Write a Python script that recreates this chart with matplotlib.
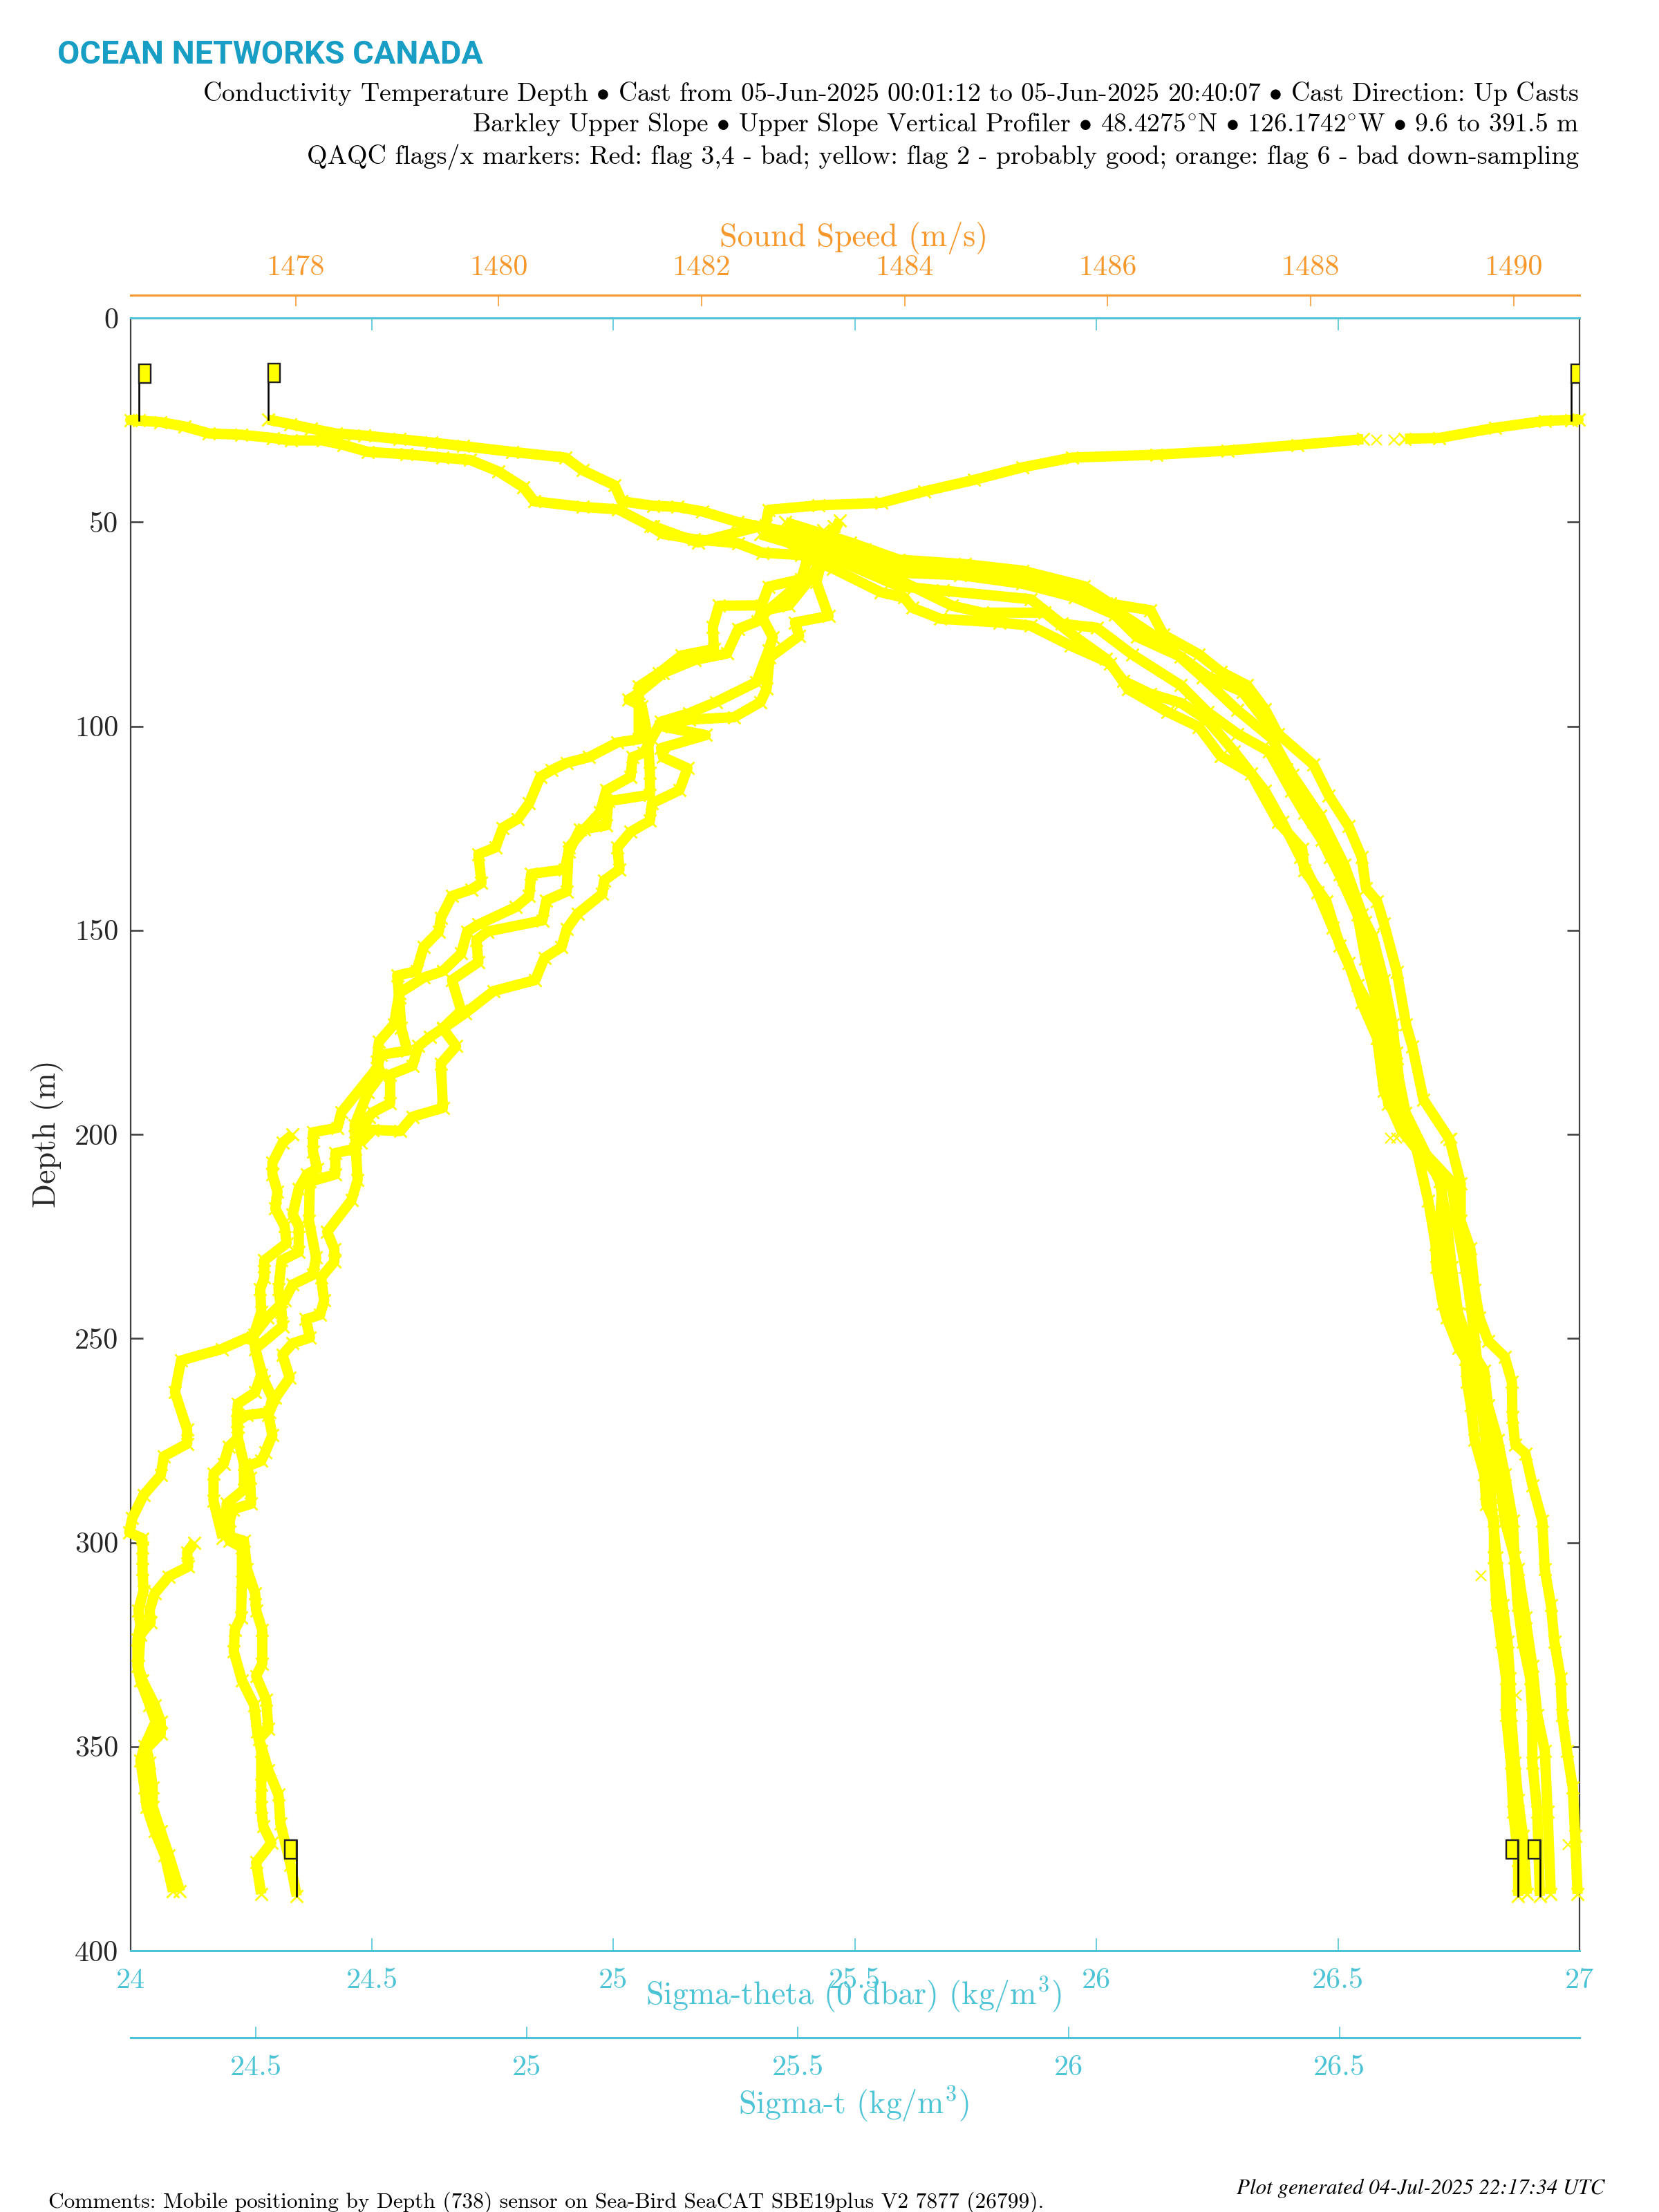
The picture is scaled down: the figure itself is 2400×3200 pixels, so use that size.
import numpy as np
import matplotlib
matplotlib.use("Agg")
import matplotlib.pyplot as plt
from matplotlib.patches import Rectangle
from matplotlib.transforms import IdentityTransform

plt.rcParams['font.family'] = ['cmr10', 'DejaVu Serif']
plt.rcParams['mathtext.fontset'] = 'cm'
plt.rcParams['axes.formatter.use_mathtext'] = True

# ---- sound speed (m/s) strands and their depths (m)
speed_1 = [1490.57,1490.64,1490.31,1489.82,1489.27,1488.93,np.nan,1488.52,1487.87,1487.18,1486.48,1485.65,1485.16,1484.68,1484.19,1483.77,1483.15,1482.66,1482.63,1483.05,1482.98,1482.66,1482.59,1482.17,1482.11,1482.12,1481.80,1481.58,1481.38,1481.38,1481.17,1480.89,1480.67,1480.52,1480.41,1480.30,1480.19,1480.04,1479.97,1479.80,1479.83,1479.73,1479.54,1479.43,1479.41,1479.26,1479.19,1479.00,1479.02,1479.04,1479.10,1478.84,1478.80,1478.45,1478.41,1478.17,1478.17,1478.21,1478.11,1478.03,1477.97,1478.03,1478.03,1477.86,1477.83,1477.86,1477.87,1477.60,1477.69,1477.77,1477.73,1477.77,1477.70,1477.66,1477.52,1477.55,1477.56,1477.38,1477.35,1477.35,1477.47,1477.47,1477.46,1477.40,1477.39,1477.47,1477.59,1477.62,1477.66,1477.66,1477.66,1477.68,1477.76,1477.61,1477.66]
depth_1 = [25.0,24.9,25.2,26.9,29.4,29.6,np.nan,29.7,31.1,32.5,33.5,34.2,36.6,39.7,42.5,45.3,45.9,47.0,50.8,58.7,64.0,65.8,70.4,70.5,75.7,81.1,82.7,87.0,90.3,103.2,104.0,107.6,109.0,110.8,112.4,118.9,122.7,124.9,129.7,131.4,138.4,140.0,141.6,147.0,150.3,154.1,160.0,161.1,166.5,174.0,179.5,180.5,183.8,194.6,198.4,199.5,204.2,208.4,209.8,213.3,219.6,222.5,228.8,230.9,237.9,243.5,247.0,252.6,260.4,264.6,268.8,273.7,277.9,280.0,281.4,284.2,290.5,291.9,294.7,299.6,301.2,309.5,318.4,321.4,326.7,333.8,339.8,346.3,351.1,359.4,364.7,369.5,373.6,378.4,386.1]

speed_2 = [1483.36,1483.25,1483.09,1482.86,1482.59,1482.55,1482.36,1482.25,1481.93,1481.62,1481.38,1481.28,1481.41,1481.47,1481.49,1481.49,1481.08,1481.06,1480.80,1480.69,1480.65,1480.32,1480.30,1480.17,1479.80,1479.69,1479.63,1479.45,1479.26,1479.02,1478.97,1478.82,1478.80,1478.84,1478.71,1478.58,1478.59,1478.61,1478.55,1478.31,1478.38,1478.38,1478.25,1478.28,1478.24,1478.10,1478.14,1477.97,1477.87,1477.94,1477.80,1477.74,1477.52,1477.43,1477.43,1477.49,1477.49,1477.32,1477.31,1477.49,1477.52,1477.60,1477.61,1477.67,1477.67,1477.61,1477.71,1477.73,1477.64,1477.73,1477.83,1477.85,1477.95,1478.01]
depth_2 = [49.6,55.0,63.3,70.4,71.8,74.3,76.2,82.2,83.8,87.0,91.9,93.5,95.1,102.7,111.4,116.8,118.4,124.3,125.4,130.8,135.1,136.2,141.6,144.3,148.6,150.3,155.7,160.0,161.6,165.4,173.0,177.3,182.2,185.4,189.7,197.8,202.1,211.2,216.1,223.9,228.1,231.2,235.1,240.7,244.2,245.3,249.8,251.2,254.0,259.6,264.6,268.1,268.8,270.2,274.4,280.7,287.0,290.5,298.2,299.6,306.5,312.5,316.6,321.4,329.7,332.7,338.6,345.7,348.1,355.8,361.8,368.9,379.0,386.6]

speed_3 = [1483.2,1483.05,1482.98,1482.59,1482.70,1482.66,1482.54,1482.14,1481.88,1481.60,1481.43,1481.32,1481.30,1481.06,1481.00,1480.84,1480.69,1480.67,1480.47,1480.43,1479.89,1479.78,1479.80,1479.54,1479.63,1479.45,1479.32,1479.21,1479.15,1478.93,1478.93,1478.76,1478.72,1478.59,1478.39,1478.39,1478.14,1478.13,1478.20,1478.17,1477.97,1477.89,1477.72,1477.59,1477.27,1476.87,1476.81,1476.93,1476.93,1476.70,1476.67,1476.50,1476.39,1476.36,1476.49,1476.49,1476.49,1476.50,1476.45,1476.47,1476.44,1476.44,1476.47,1476.56,1476.62,1476.51,1476.47,1476.51,1476.53,1476.61,1476.71,1476.79]
depth_3 = [52.0,58.0,64.7,73.0,78.2,81.4,89.2,94.1,96.8,98.9,106.5,107.6,112.4,115.7,121.1,125.4,129.7,140.5,142.7,147.6,150.3,152.4,157.8,162.2,169.7,174.0,176.2,178.4,183.2,185.4,192.4,194.6,195.8,203.5,204.6,209.8,211.6,221.1,230.2,234.4,236.8,240.7,244.9,249.1,252.6,255.4,263.2,272.3,275.8,278.9,283.5,288.4,294.0,297.5,299.0,301.2,306.5,311.9,316.6,320.2,323.8,330.3,333.8,339.8,343.9,349.9,353.4,360.0,364.7,370.7,376.6,385.5]

speed_4 = [1483.3,1483.2,1483.13,1483.25,1482.92,1482.96,1482.67,1482.64,1482.58,1482.32,1481.88,1481.60,1482.04,1481.60,1481.62,1481.86,1481.78,1481.51,1481.49,1481.30,1481.17,1481.19,1481.04,1481.02,1480.78,1480.67,1480.62,1480.45,1480.36,1479.95,1479.67,1479.45,1479.58,1479.43,1479.45,1479.15,1479.03,1478.76,1478.64]
depth_4 = [51.0,58.0,64.7,73.0,74.6,77.9,83.2,90.8,94.1,97.8,98.4,100.0,102.2,105.4,107.6,110.3,115.7,118.9,123.2,125.9,129.7,135.1,137.8,141.1,145.9,149.7,154.1,156.8,162.2,164.9,170.3,174.1,178.4,182.7,193.5,195.7,199.2,198.9,202.0]

speed_5 = [1477.97,1477.87,1477.77,1477.77,1477.82,1477.80,1477.89,1477.91,1477.69,1477.69,1477.65,1477.66,1477.58,1477.66,1477.60,1477.43,1477.42,1477.43,1477.34,1477.29,1477.19,1477.19,1477.28]
depth_5 = [200.0,202.1,207.0,209.8,214.0,218.2,222.5,226.7,230.9,235.1,237.9,243.5,249.8,258.9,263.2,266.0,270.2,274.4,276.5,280.7,283.2,289.8,298.9]

speed_6 = [1477.00,1476.93,1476.94,1476.75,1476.61,1476.56,1476.57,1476.47,1476.45,1476.49,1476.61,1476.67,1476.67,1476.53,1476.56,1476.59,1476.59,1476.67,1476.75,1476.86]
depth_6 = [300.0,302.4,305.9,308.3,312.5,316.6,319.6,322.6,330.3,333.8,339.8,343.9,346.9,350.5,354.0,360.0,364.7,370.7,376.6,385.5]

speed_stray = [1488.65, 1488.82]
depth_stray = [29.8, 29.8]

# ---- sigma-theta (kg/m3) strands
theta_a = [24.018,24.000,24.062,24.113,24.163,24.229,24.295,24.332,24.398,24.441,24.492,24.572,24.646,24.704,24.762,24.814,24.836,24.937,25.010,25.077,25.102,25.167,25.258,25.308,25.389,25.455,25.554,25.602,25.619,25.677,25.800,25.864,25.947,26.029,26.066,26.147,26.212,26.257,26.320,26.376,26.426,26.430,26.476,26.504,26.541,26.585,26.604,26.658,26.687,26.702,26.704,26.717,26.725,26.750,26.764,26.767,26.775,26.783,26.803,26.807,26.823,26.823,26.828,26.838,26.848,26.848,26.858,26.863,26.873,26.873]
theta_a_d = [25.0,25.0,25.5,26.6,28.3,28.6,29.4,30.0,30.0,31.1,32.8,33.4,34.2,34.8,37.6,41.5,44.9,46.3,46.9,51.0,52.9,54.2,55.2,57.5,58.1,61.4,67.2,68.5,71.0,73.7,74.6,75.4,80.3,84.6,91.0,96.5,100.2,107.3,111.6,123.5,130.0,135.3,142.9,153.7,163.4,173.1,192.6,201.2,216.3,226.9,232.5,241.5,244.9,252.3,255.0,260.7,266.4,274.8,283.3,290.6,294.7,303.6,315.4,324.3,333.2,342.2,354.0,365.9,377.8,386.6]

theta_b = [25.356,25.491,25.591,25.728,25.847,25.974,26.029,26.112,26.139,26.212,26.258,26.312,26.349,26.376,26.449,26.481,26.522,26.549,26.558,26.581,26.595,26.622,26.641,26.654,26.677,26.731,26.754,26.754,26.774,26.783,26.793,26.811,26.845,26.860,26.861,26.867,26.888,26.903,26.923,26.928,26.941,26.948,26.961,26.964,26.974,26.986,26.991,26.996]
theta_b_d = [50.0,55.0,59.2,60.3,61.9,65.7,70.0,71.6,77.6,82.4,86.7,90.0,95.9,101.9,109.4,117.0,124.5,132.1,139.7,142.9,148.3,160.2,173.1,178.5,191.5,201.2,212.0,221.2,228.0,238.1,244.9,250.6,254.5,260.7,269.2,276.0,278.2,286.1,294.7,306.5,315.4,324.3,333.2,342.2,351.1,360.0,371.9,386.1]

theta_c = [25.376,25.519,25.701,25.764,25.893,25.956,26.020,26.056,26.112,26.175,26.230,26.285,26.349,26.385,26.422,26.458,26.489,26.522,26.549,26.581,26.595,26.631,26.717,26.711,26.721,26.738,26.760,26.788,26.803,26.811,26.818,26.828,26.841,26.851,26.856,26.858,26.866,26.873,26.883,26.891]
theta_c_d = [53.0,60.0,70.5,72.2,72.2,78.1,83.5,88.9,92.1,94.3,98.6,106.2,115.9,123.5,132.1,140.7,149.4,158.0,167.7,176.4,189.3,199.0,211.6,221.2,232.5,243.8,252.3,260.7,272.0,280.5,290.6,303.6,315.4,324.3,333.2,342.2,354.0,363.0,371.9,386.1]

theta_stray = [26.608,26.621,26.722,26.735,26.795,26.868,26.975]
theta_stray_d = [200.9,200.9,200.9,200.9,308.0,337.3,374.0]

# ---- sigma-t (kg/m3) strands
t_a = [24.522,24.564,24.602,24.648,24.700,24.765,24.824,24.883,24.973,25.071,25.103,25.162,25.175,25.233,25.278,25.324,25.389,25.477,25.543,25.624,25.686,25.800,25.915,26.011,26.085,26.126,26.207,26.256,26.321,26.362,26.402,26.427,26.452,26.483,26.508,26.541,26.561,26.582,26.598,26.606,26.622,26.685,26.698,26.707,26.719,26.741,26.767,26.774,26.792,26.805,26.820,26.823,26.829,26.838,26.852,26.856,26.856,26.865,26.870]
t_a_d = [24.9,26.0,27.1,28.3,28.8,29.7,30.5,31.4,32.8,34.2,37.3,41.0,44.9,46.0,46.3,47.4,50.0,52.3,54.9,56.8,62.4,63.0,65.1,68.4,72.7,78.1,83.0,87.8,91.6,98.6,110.5,117.0,123.5,132.1,137.5,146.1,151.5,162.3,173.1,184.0,194.7,211.6,221.2,232.5,243.8,252.3,257.9,266.4,274.8,283.3,294.7,303.6,315.4,324.3,333.2,342.2,354.0,365.9,386.6]

t_b = [25.431,25.533,25.686,25.768,25.930,25.987,26.052,26.117,26.207,26.256,26.312,26.370,26.411,26.435,26.467,26.500,26.533,26.548,26.569,26.585,26.602,26.626,26.707,26.716,26.732,26.742,26.749,26.758,26.774,26.787,26.800,26.805,26.829,26.843,26.856,26.865,26.879,26.884,26.890]
t_b_d = [53.0,57.0,65.7,66.8,68.9,74.9,75.9,82.4,90.0,96.5,101.9,106.2,115.9,121.3,127.8,136.4,146.1,157.0,167.7,178.5,192.6,200.1,211.6,221.2,232.5,241.5,249.4,260.7,272.0,280.5,288.9,294.6,306.5,318.4,330.3,342.2,351.1,365.9,386.1]

t_c = [25.233,25.316,25.431,25.558,25.648,25.750,25.878,26.005,26.069,26.171,26.247,26.311,26.375,26.413,26.464,26.509,26.547,26.579,26.605,26.617]
t_c_d = [51.0,55.0,51.0,55.0,59.0,62.0,63.0,66.0,70.0,79.0,88.0,96.0,103.0,112.0,122.0,134.0,148.0,165.0,180.0,198.0]

depth_ticks = [0, 50, 100, 150, 200, 250, 300, 350, 400]
theta_ticks = [24, 24.5, 25, 25.5, 26, 26.5, 27]
theta_labels = ['24', '24.5', '25', '25.5', '26', '26.5', '27']
t_ticks = [24.5, 25, 25.5, 26, 26.5]
t_labels = ['24.5', '25', '25.5', '26', '26.5']
speed_ticks = [1478, 1480, 1482, 1484, 1486, 1488, 1490]
speed_labels = ['1478', '1480', '1482', '1484', '1486', '1488', '1490']

ORANGE = '#F7982D'
CYAN = '#4DC4D6'
DARK = '#404040'
YELLOW = '#FFFF00'
W, H = 2400, 3200
PT = 72 / 200  # points per pixel


def fx(p):
    return p / W


def fy(p):
    return 1 - p / H


fig = plt.figure(figsize=(12, 16), dpi=200, facecolor='white')
L, R, TOP, BOT = 188.5, 2285, 460, 2822
ax = fig.add_axes([fx(L), fy(BOT), (R - L) / W, (BOT - TOP) / H])
ax.set_xlim(24, 27)
ax.set_ylim(400, 0)
ax_s = ax.twiny()
ax_s.set_xlim(1476.37, 1490.65)
ax_t = ax.twiny()
ax_t.set_xlim(24.268, 26.943)
ax_t.xaxis.set_ticks_position('bottom')
ax_t.xaxis.set_label_position('bottom')

for a in (ax, ax_s, ax_t):
    a.set_ylim(400, 0)
    for s in a.spines.values():
        s.set_visible(False)

ax.spines['left'].set_visible(True)
ax.spines['right'].set_visible(True)
ax.spines['left'].set_color(DARK)
ax.spines['right'].set_color(DARK)
ax.spines['left'].set_linewidth(2.2 * PT)
ax.spines['right'].set_linewidth(2.2 * PT)
ax.spines['top'].set_visible(True)
ax.spines['bottom'].set_visible(True)
ax.spines['top'].set_color(CYAN)
ax.spines['bottom'].set_color(CYAN)
ax.spines['top'].set_linewidth(3 * PT)
ax.spines['bottom'].set_linewidth(3 * PT)

FS = 15.2
ax.set_yticks(depth_ticks)
ax.set_yticklabels([str(v) for v in depth_ticks], fontsize=FS, color='#262626')
ax.tick_params(axis='y', direction='in', left=True, right=True, length=18 * PT,
               width=2.6 * PT, color=DARK, pad=17 * PT)
ax.set_xticks(theta_ticks)
ax.set_xticklabels(theta_labels, fontsize=FS, color=CYAN)
ax.tick_params(axis='x', direction='in', top=True, bottom=True, length=18 * PT,
               width=1.6 * PT, color=CYAN, pad=25 * PT)

ax_s.spines['top'].set_visible(True)
ax_s.spines['top'].set_position(('outward', 33 * PT))
ax_s.spines['top'].set_color(ORANGE)
ax_s.spines['top'].set_linewidth(3 * PT)
ax_s.set_xticks(speed_ticks)
ax_s.set_xticklabels(speed_labels, fontsize=FS, color=ORANGE)
ax_s.tick_params(axis='x', direction='in', top=True, bottom=False, labeltop=True,
                 labelbottom=False, length=16 * PT, width=1.6 * PT, color=ORANGE, pad=21 * PT)
ax_s.yaxis.set_visible(False)

ax_t.spines['bottom'].set_visible(True)
ax_t.spines['bottom'].set_position(('outward', 126 * PT))
ax_t.spines['bottom'].set_color(CYAN)
ax_t.spines['bottom'].set_linewidth(3 * PT)
ax_t.set_xticks(t_ticks)
ax_t.set_xticklabels(t_labels, fontsize=FS, color=CYAN)
ax_t.tick_params(axis='x', direction='in', top=False, bottom=True, labelbottom=True,
                 labeltop=False, length=16 * PT, width=1.6 * PT, color=CYAN, pad=25 * PT)
ax_t.yaxis.set_visible(False)

style = dict(color=YELLOW, lw=15 * PT, marker='x', ms=18 * PT, mew=2.8 * PT,
             solid_joinstyle='round', solid_capstyle='butt', clip_on=False, zorder=3)
stray = dict(color=YELLOW, ls='none', marker='x', ms=15 * PT, mew=2.2 * PT, clip_on=False, zorder=3)

for xs, ds in ((speed_1, depth_1), (speed_2, depth_2), (speed_3, depth_3),
               (speed_4, depth_4), (speed_5, depth_5), (speed_6, depth_6)):
    ax_s.plot(xs, ds, **style)
ax_s.plot(speed_stray, depth_stray, **stray)

for xs, ds in ((t_a, t_a_d), (t_b, t_b_d), (t_c, t_c_d)):
    ax_t.plot(xs, ds, **style)
for xs, ds in ((theta_a, theta_a_d), (theta_b, theta_b_d), (theta_c, theta_c_d)):
    ax.plot(xs, ds, **style)
ax.plot(theta_stray, theta_stray_d, **stray)

ax_s.patch.set_visible(False)
ax_t.patch.set_visible(False)
ax.patch.set_visible(False)


def flag(a, x, d, side):
    """Flag on the first or last point of a series: pole plus small box, sized in pixels."""
    px, py = a.transData.transform((x, d))
    top = py + 81
    ax_t.plot([px, px], [py, top], color='black', lw=2.6 * PT, transform=IdentityTransform(),
              zorder=6, clip_on=False)
    rx = px if side > 0 else px - 17
    rect = Rectangle((rx, top - 27), 17, 27, facecolor=YELLOW, edgecolor='#202020',
                     lw=2.4 * PT, transform=IdentityTransform(), zorder=6)
    ax_t.add_patch(rect)
    rect.set_clip_path(ax_t.patch)


flag(ax, theta_a[0], theta_a_d[0], 1)
flag(ax_t, t_a[0], t_a_d[0], 1)
flag(ax_s, speed_1[0], depth_1[0], 1)
flag(ax_s, speed_2[-1], depth_2[-1], -1)
flag(ax, theta_a[-1], theta_a_d[-1], -1)
flag(ax_t, t_a[-1], t_a_d[-1], -1)

# ---- text
fig.text(fx(83), fy(91.5), 'OCEAN NETWORKS CANADA', family='Roboto', weight='bold',
         fontsize=16.85, color='#189EC4', va='baseline', ha='left')
fig.text(fx(2284), fy(146), r'Conductivity Temperature Depth $\bullet$ Cast from 05-Jun-2025 00:01:12 to 05-Jun-2025 20:40:07 $\bullet$ Cast Direction: Up Casts',
         fontsize=13.6, ha='right', va='baseline', color='black')
fig.text(fx(2284), fy(191.5), r'Barkley Upper Slope $\bullet$ Upper Slope Vertical Profiler $\bullet$ 48.4275$^{\circ}$N $\bullet$ 126.1742$^{\circ}$W $\bullet$ 9.6 to 391.5 m',
         fontsize=13.55, ha='right', va='baseline', color='black')
fig.text(fx(2284), fy(237), 'QAQC flags/x markers: Red: flag 3,4 - bad; yellow: flag 2 - probably good; orange: flag 6 - bad down-sampling',
         fontsize=13.66, ha='right', va='baseline', color='black')

TS = 16.55
fig.text(fx(1235), fy(356), 'Sound Speed (m/s)', color=ORANGE, fontsize=TS, ha='center', va='baseline')
fig.text(fx(1235), fy(2900), r'Sigma-theta (0 dbar) (kg/m$^3$)', color=CYAN, fontsize=TS, ha='center', va='baseline')
fig.text(fx(1235), fy(3058), r'Sigma-t (kg/m$^3$)', color=CYAN, fontsize=TS, ha='center', va='baseline')
fig.text(fx(69), fy(1640), 'Depth (m)', color='#262626', fontsize=TS, rotation=90, ha='center', va='center')

fig.text(fx(70), fy(3194), 'Comments: Mobile positioning by Depth (738) sensor on Sea-Bird SeaCAT SBE19plus V2 7877 (26799).',
         fontsize=11.32, ha='left', va='baseline', color='black')
fig.text(fx(2321), fy(3174), 'Plot generated 04-Jul-2025 22:17:34 UTC', family='STIXGeneral', style='italic',
         fontsize=11.15, ha='right', va='baseline', color='black')

fig.savefig('out.png', dpi=200, facecolor='white')
